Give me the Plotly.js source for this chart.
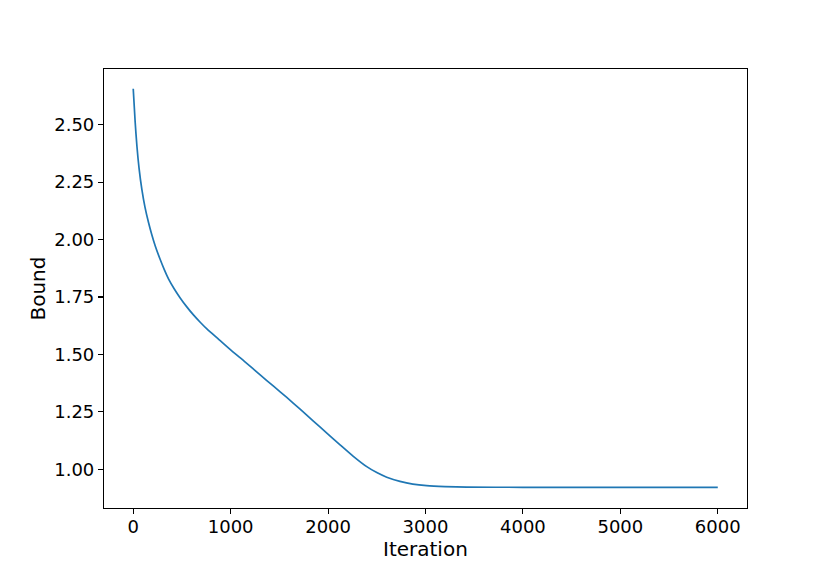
<!DOCTYPE html>
<html>
<head>
<meta charset="utf-8">
<script src="https://cdn.plot.ly/plotly-3.0.1.min.js"></script>
<style>
  html, body { margin: 0; padding: 0; background: #fff; }
  #plot { width: 830px; height: 581px; }
</style>
</head>
<body>
<div id="plot"></div>
<script>
// values
const iterations = [0, 20, 38, 60, 89, 120, 157, 190, 226, 277, 320, 362, 420, 482, 550, 618, 690, 756,
  880, 1000, 1150, 1303, 1440, 1576, 1713, 1849, 1990, 2123, 2259, 2397, 2500, 2602, 2738, 2870,
  3012, 3200, 3423, 4000, 4500, 5000, 5500, 6000];
const bound = [2.656, 2.51, 2.406, 2.31, 2.217, 2.142, 2.074, 2.022, 1.972, 1.913, 1.868, 1.829, 1.786,
  1.746, 1.707, 1.672, 1.639, 1.611, 1.565, 1.520, 1.467, 1.411, 1.362, 1.313, 1.262, 1.210, 1.157,
  1.107, 1.057, 1.012, 0.986, 0.966, 0.948, 0.936, 0.929, 0.925, 0.923, 0.922, 0.922, 0.922, 0.922, 0.922];
const xTicks = [0, 1000, 2000, 3000, 4000, 5000, 6000];
const yTicks = [1.00, 1.25, 1.50, 1.75, 2.00, 2.25, 2.50];

const font = 'DejaVu Sans, sans-serif';

const trace = {
  x: iterations,
  y: bound,
  mode: 'lines',
  type: 'scatter',
  line: {color: '#1f77b4', width: 1.7, shape: 'spline', smoothing: 0.6},
  hoverinfo: 'none'
};

const axisCommon = {
  showgrid: false,
  zeroline: false,
  showline: true,
  mirror: true,
  linecolor: '#000',
  linewidth: 1.1,
  ticks: 'outside',
  ticklen: 5,
  tickwidth: 1.1,
  tickcolor: '#000',
  tickfont: {family: font, size: 18, color: '#000'}
};

const layout = {
  width: 830,
  height: 581,
  margin: {l: 104, r: 83, t: 69, b: 73},
  paper_bgcolor: '#fff',
  plot_bgcolor: '#fff',
  showlegend: false,
  xaxis: Object.assign({}, axisCommon, {
    range: [-300, 6300],
    tickvals: xTicks,
    ticktext: xTicks.map(String),
    ticklabelstandoff: -3
  }),
  yaxis: Object.assign({}, axisCommon, {
    range: [0.832, 2.742],
    tickvals: yTicks,
    ticktext: yTicks.map(v => v.toFixed(2)),
    title: {text: 'Bound', font: {family: font, size: 20, color: '#000'}, standoff: 3}
  }),
  // x title as an annotation so it can sit as close to the tick labels as in the reference
  annotations: [{
    text: 'Iteration',
    xref: 'paper', yref: 'paper',
    x: 0.5, y: 0,
    xanchor: 'center', yanchor: 'middle',
    yshift: -41,
    showarrow: false,
    font: {family: font, size: 20, color: '#000'}
  }]
};

Plotly.newPlot('plot', [trace], layout, {staticPlot: true});
</script>
</body>
</html>
